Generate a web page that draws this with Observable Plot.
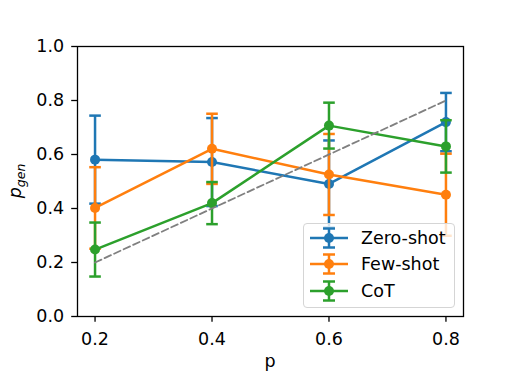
<!DOCTYPE html>
<html><head><meta charset="utf-8">
<script src="https://cdn.jsdelivr.net/npm/d3@7"></script>
<script src="https://cdn.jsdelivr.net/npm/@observablehq/plot@0.6"></script>
<style>
body{margin:0;background:#fff;}
#wrap{position:relative;width:515px;height:386px;font-family:"DejaVu Sans",sans-serif;}
#legend{position:absolute;left:303px;top:223px;width:152px;height:85px;border:1px solid #d5d5d5;border-radius:4px;background:rgba(255,255,255,0.8);box-sizing:border-box;}
.row{position:absolute;left:0;height:26px;display:flex;align-items:center;font-size:17.5px;color:#000;white-space:nowrap;}
.row svg{margin-left:6px;margin-right:13px;}
</style></head><body><div id="wrap"></div>
<script>
const ps = [0.2, 0.4, 0.6, 0.8];
const seriesNames = ["Zero-shot", "Few-shot", "CoT"];
const seriesColors = ["#1f77b4", "#ff7f0e", "#2ca02c"];
const zeroShot    = [0.581, 0.572, 0.491, 0.720];
const zeroShotErr = [0.163, 0.163, 0.161, 0.108];
const fewShot     = [0.402, 0.621, 0.526, 0.451];
const fewShotErr  = [0.151, 0.130, 0.150, 0.152];
const cot         = [0.248, 0.420, 0.707, 0.630];
const cotErr      = [0.100, 0.078, 0.085, 0.097];
const diagonal = [0.2, 0.8];
const xTicks = [0.2, 0.4, 0.6, 0.8];
const yTicks = [0.0, 0.2, 0.4, 0.6, 0.8, 1.0];

const rows = [];
[[zeroShot, zeroShotErr], [fewShot, fewShotErr], [cot, cotErr]].forEach(([v, e], i) =>
  ps.forEach((p, j) => rows.push({series: seriesNames[i], p, value: v[j], err: e[j], lo: v[j] - e[j], hi: v[j] + e[j]})));

const cap = {draw(ctx, size) { const w = Math.sqrt(size / Math.PI); ctx.moveTo(-w, 0); ctx.lineTo(w, 0); }};

const seriesMarks = seriesNames.flatMap(name => {
  const d = rows.filter(r => r.series === name);
  return [
    Plot.ruleX(d, {x: "p", y1: "lo", y2: "hi", stroke: "series", strokeWidth: 2.5}),
    Plot.dot(d, {x: "p", y: "lo", stroke: "series", symbol: cap, r: 5.8, strokeWidth: 2.5, fill: "none"}),
    Plot.dot(d, {x: "p", y: "hi", stroke: "series", symbol: cap, r: 5.8, strokeWidth: 2.5, fill: "none"}),
    Plot.line(d, {x: "p", y: "value", stroke: "series", strokeWidth: 2.5}),
    Plot.dot(d, {x: "p", y: "value", fill: "series", r: 5, stroke: "none"})
  ];
});

const chart = Plot.plot({
  width: 515, height: 386,
  marginLeft: 77, marginRight: 52, marginTop: 46, marginBottom: 70,
  x: {domain: [0.17, 0.83]},
  y: {domain: [0, 1]},
  color: {domain: seriesNames, range: seriesColors},
  style: {fontFamily: "DejaVu Sans", fontSize: "17.5px", background: "white", color: "black"},
  marks: [
    Plot.axisX({ticks: xTicks, tickFormat: d3.format(".1f"), tickSize: 5.8, tickPadding: 10, label: null, strokeWidth: 1.3, fontSize: 17.5}),
    Plot.axisY({ticks: yTicks, tickFormat: d3.format(".1f"), tickSize: 5.8, tickPadding: 7.5, label: null, strokeWidth: 1.3, fontSize: 17.5}),
    ...seriesMarks,
    Plot.line(diagonal, {x: d => d, y: d => d, stroke: "gray", strokeWidth: 1.8, strokeDasharray: "7,3.5"}),
    Plot.frame({stroke: "black", strokeWidth: 1.3})
  ]
});

const svg = d3.select(chart);
svg.append("text").attr("x", 270).attr("y", 367).attr("text-anchor", "middle")
  .attr("font-size", 17.5).attr("fill", "black").text("p");
const yl = svg.append("text").attr("transform", "translate(21,181) rotate(-90)").attr("text-anchor", "middle")
  .attr("font-size", 17.5).attr("fill", "black").attr("font-style", "italic");
yl.append("tspan").text("p");
yl.append("tspan").attr("dy", 4).attr("font-size", 12.5).text("gen");

document.getElementById("wrap").appendChild(chart);

const legend = document.createElement("div");
legend.id = "legend";
seriesNames.forEach((name, i) => {
  const row = document.createElement("div");
  row.className = "row";
  row.style.top = (1 + i * 26.3) + "px";
  const c = seriesColors[i];
  row.innerHTML = `<svg width="38" height="26"><line x1="0" x2="38" y1="13" y2="13" stroke="${c}" stroke-width="2.5"/><line x1="19" x2="19" y1="3.5" y2="22.5" stroke="${c}" stroke-width="2.5"/><line x1="13" x2="25" y1="3.5" y2="3.5" stroke="${c}" stroke-width="2.5"/><line x1="13" x2="25" y1="22.5" y2="22.5" stroke="${c}" stroke-width="2.5"/><circle cx="19" cy="13" r="5" fill="${c}"/></svg><span>${name}</span>`;
  legend.appendChild(row);
});
document.getElementById("wrap").appendChild(legend);
</script></body></html>
